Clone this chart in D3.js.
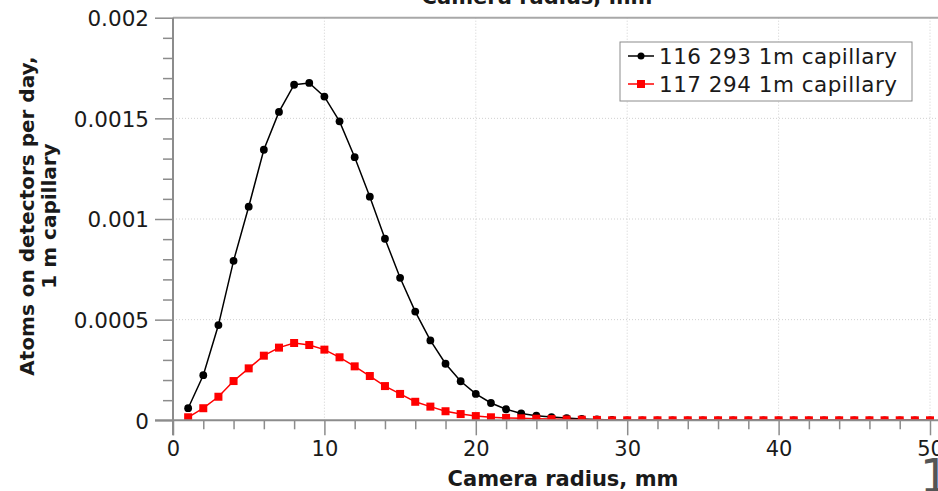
<!DOCTYPE html>
<html>
<head>
<meta charset="utf-8">
<script src="https://cdn.jsdelivr.net/npm/d3@7"></script>
<style>
  html, body { margin: 0; padding: 0; background: #fff; }
  svg { display: block; }
  text { font-family: "DejaVu Sans", sans-serif; }
</style>
</head>
<body>
<svg id="chart" width="938" height="491"></svg>
<script>
// Camera radius (mm) at which each sample was taken
const radius = [1, 2, 3, 4, 5, 6, 7, 8, 9, 10, 11, 12, 13, 14, 15, 16, 17, 18, 19, 20,
  21, 22, 23, 24, 25, 26, 27, 28, 29, 30, 31, 32, 33, 34, 35, 36, 37, 38, 39, 40,
  41, 42, 43, 44, 45, 46, 47, 48, 49, 50];

// Atoms on detectors per day, 116 293 with a 1 m capillary
const atoms116 = [0.00006, 0.000224, 0.000473, 0.000792, 0.001061, 0.001344, 0.001532, 0.001667, 0.001676, 0.001608,
  0.001485, 0.001307, 0.001111, 0.000902, 0.000708, 0.00054, 0.000397, 0.000281, 0.000194, 0.000131,
  0.000086, 0.000055, 0.000034, 0.000023, 0.000016, 0.000011, 0.000007, 0.000004, 0.000002, 0,
  0, 0, 0, 0, 0, 0, 0, 0, 0, 0,
  0, 0, 0, 0, 0, 0, 0, 0, 0, 0];

// Atoms on detectors per day, 117 294 with a 1 m capillary
const atoms117 = [0.000015, 0.00006, 0.000117, 0.000195, 0.000258, 0.000321, 0.000361, 0.000384, 0.000374, 0.000351,
  0.000313, 0.000268, 0.00022, 0.00017, 0.000131, 0.000092, 0.000068, 0.000045, 0.000031, 0.000021,
  0.000015, 0.000012, 0.00001, 0.000008, 0.000006, 0.000004, 0.000003, 0.000002, 0, 0,
  0, 0, 0, 0, 0, 0, 0, 0, 0, 0,
  0, 0, 0, 0, 0, 0, 0, 0, 0, 0];

const seriesNames = ["116 293 1m capillary", "117 294 1m capillary"];
const seriesColors = ["#000000", "#ff0000"];

const xMajorTicks = [0, 10, 20, 30, 40, 50];
const xMinorTicks = [2, 4, 6, 8, 12, 14, 16, 18, 22, 24, 26, 28, 32, 34, 36, 38, 42, 44, 46, 48];
const yMajorTicks = [0, 0.0005, 0.001, 0.0015, 0.002];
const yTickLabels = ["0", "0.0005", "0.001", "0.0015", "0.002"];
const yMinorTicks = [0.0001, 0.0002, 0.0003, 0.0004, 0.0006, 0.0007, 0.0008, 0.0009,
  0.0011, 0.0012, 0.0013, 0.0014, 0.0016, 0.0017, 0.0018, 0.0019];

const svg = d3.select("#chart");
const W = 938, H = 491;
const plot = { left: 173, right: 938, top: 17.7, bottom: 420.3 };

const x = d3.scaleLinear().domain([0, 50]).range([173, 930]);
const y = d3.scaleLinear().domain([0, 0.002]).range([plot.bottom, plot.top]);

svg.append("rect").attr("width", W).attr("height", H).attr("fill", "#fff");

// clip region for the data area
svg.append("defs").append("clipPath").attr("id", "plotClip")
  .append("rect")
  .attr("x", plot.left).attr("y", plot.top)
  .attr("width", plot.right - plot.left).attr("height", plot.bottom - plot.top);

// dotted grid at major ticks
const grid = svg.append("g").attr("stroke", "#d0d0d0").attr("stroke-width", 1).attr("stroke-dasharray", "1,2");
grid.selectAll("line.v").data(xMajorTicks.filter(d => d > 0)).join("line")
  .attr("x1", d => x(d)).attr("x2", d => x(d))
  .attr("y1", plot.top).attr("y2", plot.bottom);
grid.selectAll("line.h").data(yMajorTicks.filter(d => d > 0 && d < 0.002)).join("line")
  .attr("x1", plot.left).attr("x2", plot.right)
  .attr("y1", d => y(d)).attr("y2", d => y(d));

// top frame line
svg.append("line")
  .attr("x1", plot.left).attr("x2", plot.right)
  .attr("y1", plot.top).attr("y2", plot.top)
  .attr("stroke", "#a8a8a8").attr("stroke-width", 2);

// data series
const data = [atoms116, atoms117].map((vals, i) => ({
  name: seriesNames[i], color: seriesColors[i],
  points: radius.map((r, j) => ({ r, v: vals[j] }))
}));

const dataG = svg.append("g").attr("clip-path", "url(#plotClip)");
const line = d3.line().x(d => x(d.r)).y(d => y(d.v));

data.forEach((s, i) => {
  dataG.append("path").datum(s.points)
    .attr("d", line)
    .attr("fill", "none")
    .attr("stroke", s.color)
    .attr("stroke-width", 1.5);
  if (i === 0) {
    dataG.append("g").selectAll("circle").data(s.points).join("circle")
      .attr("cx", d => x(d.r)).attr("cy", d => y(d.v))
      .attr("r", 3.9).attr("fill", s.color);
  } else {
    dataG.append("g").selectAll("rect").data(s.points).join("rect")
      .attr("x", d => x(d.r) - 4).attr("y", d => y(d.v) - 4)
      .attr("width", 8).attr("height", 8).attr("fill", s.color);
  }
});

// axes
const axisColor = "#8c8c8c";
const textColor = "#1a1a1a";

const yAxis = svg.append("g").attr("transform", `translate(${plot.left},0)`)
  .call(d3.axisLeft(y).tickValues(yMajorTicks).tickSize(18).tickPadding(6)
    .tickFormat((d, i) => yTickLabels[i]));
const yMinor = svg.append("g").attr("transform", `translate(${plot.left},0)`)
  .call(d3.axisLeft(y).tickValues(yMinorTicks).tickSize(10).tickFormat(""));

const xAxis = svg.append("g").attr("transform", `translate(0,${plot.bottom})`)
  .call(d3.axisBottom(x).tickValues(xMajorTicks).tickSize(15).tickPadding(6)
    .tickFormat(d3.format("d")));
const xMinor = svg.append("g").attr("transform", `translate(0,${plot.bottom})`)
  .call(d3.axisBottom(x).tickValues(xMinorTicks).tickSize(9).tickFormat(""));

[yAxis, yMinor, xAxis, xMinor].forEach(g => {
  g.select(".domain").remove();
  g.selectAll(".tick line").attr("stroke", axisColor).attr("stroke-width", 1.5);
});
yAxis.selectAll(".tick text").attr("font-size", 21.5).attr("fill", textColor)
  .attr("font-family", "DejaVu Sans").attr("dy", "0.36em");
xAxis.selectAll(".tick text").attr("font-size", 21).attr("fill", textColor)
  .attr("font-family", "DejaVu Sans");

// axis lines
svg.append("line").attr("x1", plot.left).attr("x2", plot.left)
  .attr("y1", plot.top).attr("y2", plot.bottom + 15)
  .attr("stroke", axisColor).attr("stroke-width", 2);
svg.append("line").attr("x1", plot.left - 18).attr("x2", plot.right)
  .attr("y1", plot.bottom).attr("y2", plot.bottom)
  .attr("stroke", axisColor).attr("stroke-width", 2);

// axis titles
svg.append("text")
  .attr("x", 563).attr("y", 486)
  .attr("text-anchor", "middle")
  .attr("font-size", 21).attr("font-weight", "bold").attr("fill", textColor)
  .text("Camera radius, mm");

svg.append("text")
  .attr("x", 537).attr("y", 4)
  .attr("text-anchor", "middle")
  .attr("font-size", 21).attr("font-weight", "bold").attr("fill", textColor)
  .text("Camera radius, mm");

const yTitle = svg.append("text")
  .attr("transform", "translate(34,216) rotate(-90)")
  .attr("text-anchor", "middle")
  .attr("font-size", 20).attr("font-weight", "bold").attr("fill", textColor);
yTitle.append("tspan").attr("x", 0).attr("dy", 0).text("Atoms on detectors per day,");
yTitle.append("tspan").attr("x", 0).attr("dy", 22).text("1 m capillary");

// legend
const legend = svg.append("g");
legend.append("rect")
  .attr("x", 620).attr("y", 42).attr("width", 292).attr("height", 59)
  .attr("fill", "#fff").attr("stroke", "#8c8c8c").attr("stroke-width", 1);
data.forEach((s, i) => {
  const cy = 56 + i * 28;
  const row = legend.append("g");
  row.append("line").attr("x1", 628).attr("x2", 654).attr("y1", cy).attr("y2", cy)
    .attr("stroke", s.color).attr("stroke-width", 1.5);
  if (i === 0) {
    row.append("circle").attr("cx", 641).attr("cy", cy).attr("r", 3.5).attr("fill", s.color);
  } else {
    row.append("rect").attr("x", 637).attr("y", cy - 4).attr("width", 8).attr("height", 8).attr("fill", s.color);
  }
  row.append("text").attr("x", 659).attr("y", cy).attr("dy", "0.36em")
    .attr("font-size", 21.5).attr("letter-spacing", 0.5).attr("fill", textColor)
    .text(s.name);
});

// page number partly visible at the lower right
svg.append("text")
  .attr("x", 920).attr("y", 492)
  .attr("font-size", 46).attr("fill", "#555")
  .text("1");
</script>
</body>
</html>
